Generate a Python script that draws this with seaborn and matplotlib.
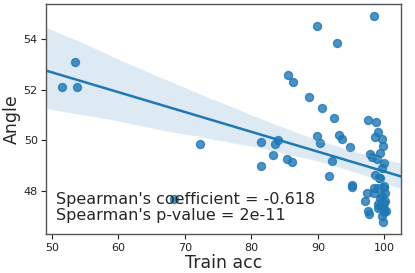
import numpy as np
import pandas as pd
import seaborn as sns
import matplotlib
matplotlib.use("Agg")
import matplotlib.pyplot as plt

# values
train_acc = [51.5, 53.5, 53.8, 68.3, 72.2,
             81.5, 81.5, 83.2, 83.6, 84.0, 85.4, 86.1, 85.5, 86.3, 88.7,
             89.8, 89.8, 90.3, 90.7, 91.7, 92.2, 92.4, 92.9, 93.2, 93.7,
             94.8, 95.1, 95.2, 98.4,
             97.6, 98.8, 99.0, 98.6, 99.7, 99.8, 97.9, 98.2, 99.4, 98.9,
             99.9, 99.6, 98.6, 99.4, 98.4, 99.9, 97.4, 97.1, 99.4, 99.9,
             97.6, 97.7, 99.1, 99.9, 99.8,
             99.2, 100.0, 98.5, 99.0, 100.1, 99.3, 100.0, 99.7, 100.2, 99.1,
             99.6, 100.1]
angle = [52.1, 53.1, 52.1, 47.7, 49.84,
         49.92, 48.99, 49.4, 49.85, 50.0, 49.25, 49.13, 52.58, 52.3, 51.72,
         54.5, 50.17, 49.9, 51.29, 48.58, 49.18, 50.88, 53.85, 50.2, 50.04,
         49.75, 48.24, 48.15, 54.9,
         50.8, 50.72, 50.32, 50.12, 50.05, 49.79, 49.46, 49.35, 49.49, 49.25,
         49.1, 48.9, 48.63, 48.5, 48.1, 48.17, 47.9, 47.6, 47.71, 47.51,
         47.2, 47.07, 47.32, 47.18, 46.76,
         48.5, 48.2, 47.9, 47.5, 47.9, 47.4, 47.3, 47.8, 47.2, 48.1,
         47.0, 47.6]

coef_text = "Spearman's coefficient = -0.618"
pval_text = "Spearman's p-value = 2e-11"

df = pd.DataFrame({"Train acc": train_acc, "Angle": angle})

sns.set_style("ticks")
plt.rcParams['font.family'] = ['DejaVu Sans']

fig = plt.figure(figsize=(4.15, 2.73), dpi=100)
ax = fig.add_axes([0.111, 0.142, 0.855, 0.843])
sns.regplot(data=df, x="Train acc", y="Angle", ax=ax, truncate=False, seed=0,
            scatter_kws={"s": 33}, line_kws={"lw": 1.8})

ax.set_xlim(49.1, 102.5)
ax.set_ylim(46.29, 55.38)
ax.set_xticks([50, 60, 70, 80, 90, 100])
ax.set_yticks([48, 50, 52, 54])
ax.tick_params(labelsize=8, length=3.5, width=0.8, colors="#222222", pad=2.5)
for s in ax.spines.values():
    s.set_color("#555555")
    s.set_linewidth(1.0)
ax.set_xlabel("Train acc", fontsize=12.5, labelpad=1)
ax.set_ylabel("Angle", fontsize=12.5, labelpad=2)
ax.text(0.028, 0.05, coef_text + "\n" + pval_text, transform=ax.transAxes,
        fontsize=11.5, va="bottom", ha="left", linespacing=1.05)

fig.savefig("out.png", dpi=100)
